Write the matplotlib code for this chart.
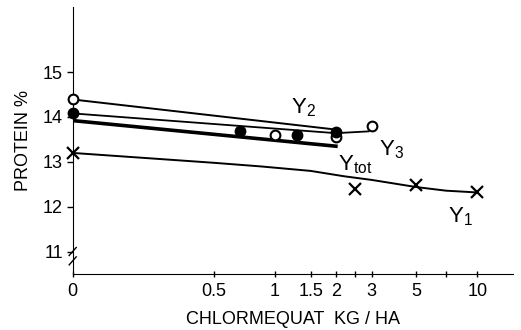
import matplotlib
matplotlib.use("Agg")
import matplotlib.pyplot as plt

plt.rcParams['font.family'] = ['Liberation Sans', 'DejaVu Sans']

# Dosis 0 wird auf der log-Achse bei 0.1 gezeichnet
ZERO = 0.1

# Y1: Kreuze und Kurve
y1_x = [0, 2.5, 5, 10]
y1_y = [13.2, 12.39, 12.48, 12.32]
y1_curve_x = [0, 0.3, 0.5, 0.85, 1.5, 2.2, 3, 5, 7, 10]
y1_curve_y = [13.2, 13.05, 12.98, 12.9, 12.8, 12.68, 12.6, 12.44, 12.36, 12.32]

# Geraden Y2, Y3, Ytot
y2_line_x = [0, 2]
y2_line_y = [14.39, 13.72]
y3_line_x = [0, 2, 2.9]
y3_line_y = [14.08, 13.64, 13.68]
ytot_line_x = [0, 2]
ytot_line_y = [13.92, 13.35]

# Messpunkte (offen / gefuellt)
open_x = [0, 1.0, 2, 3]
open_y = [14.39, 13.61, 13.55, 13.8]
filled_x = [0, 0.67, 1.29, 2]
filled_y = [14.08, 13.68, 13.6, 13.66]

xticks = [0, 0.5, 1, 1.5, 2, 3, 5, 10]
xtick_labels = ['0', '0.5', '1', '1.5', '2', '3', '5', '10']
yticks = [11, 12, 13, 14, 15]


def pos(xs):
    return [ZERO if v == 0 else v for v in xs]


fig = plt.figure(figsize=(5.21, 3.30), dpi=100)
ax = fig.add_axes([0.1395, 0.169, 0.845, 0.81])

ax.plot(pos(y1_curve_x), y1_curve_y, color='black', lw=1.4)
ax.plot(pos(y1_x), y1_y, 'x', color='black', ms=8, mew=1.6, clip_on=False)

ax.plot(pos(y2_line_x), y2_line_y, color='black', lw=1.4)
ax.plot(pos(y3_line_x), y3_line_y, color='black', lw=1.3)
ax.plot(pos(ytot_line_x), ytot_line_y, color='black', lw=2.6)

ax.plot(pos(open_x), open_y, 'o', mfc='white', mec='black', ms=7, mew=1.5,
        clip_on=False, zorder=4)
ax.plot(pos(filled_x), filled_y, 'o', mfc='black', mec='black', ms=7, mew=1.5,
        clip_on=False, zorder=4)

fs = 13
lfs = 16
ax.text(1.2, 14.08, r'$\mathregular{Y_2}$', fontsize=lfs, va='baseline')
ax.text(3.25, 13.15, r'$\mathregular{Y_3}$', fontsize=lfs, va='baseline')
ax.text(2.06, 12.82, r'$\mathregular{Y_{tot}}$', fontsize=lfs, va='baseline')
ax.text(7.15, 11.66, r'$\mathregular{Y_1}$', fontsize=lfs, va='baseline')

ax.set_xscale('log')
ax.set_xlim(ZERO, 15)
ax.set_ylim(10.5, 16.45)
ax.set_xticks(pos(xticks))
ax.set_xticklabels(xtick_labels)
ax.set_xticks([2.5, 7], minor=True)
ax.set_xticklabels([], minor=True)
ax.set_yticks(yticks)

ax.spines['top'].set_visible(False)
ax.spines['right'].set_visible(False)
ax.tick_params(axis='x', which='both', direction='inout', length=5, width=1, labelsize=fs, pad=4)
ax.tick_params(axis='y', direction='out', length=4, width=1, labelsize=fs, pad=3)

# Achsenbruch auf der y-Achse
for dy in (0.0, 0.035):
    ax.plot([-0.008, 0.008], [0.035 + dy, 0.065 + dy], transform=ax.transAxes,
            color='black', lw=1, clip_on=False)

ax.set_ylabel('PROTEIN %', fontsize=fs, labelpad=8)
ax.set_xlabel('CHLORMEQUAT  KG / HA', fontsize=fs, labelpad=8)

fig.savefig('out.png', dpi=100)
